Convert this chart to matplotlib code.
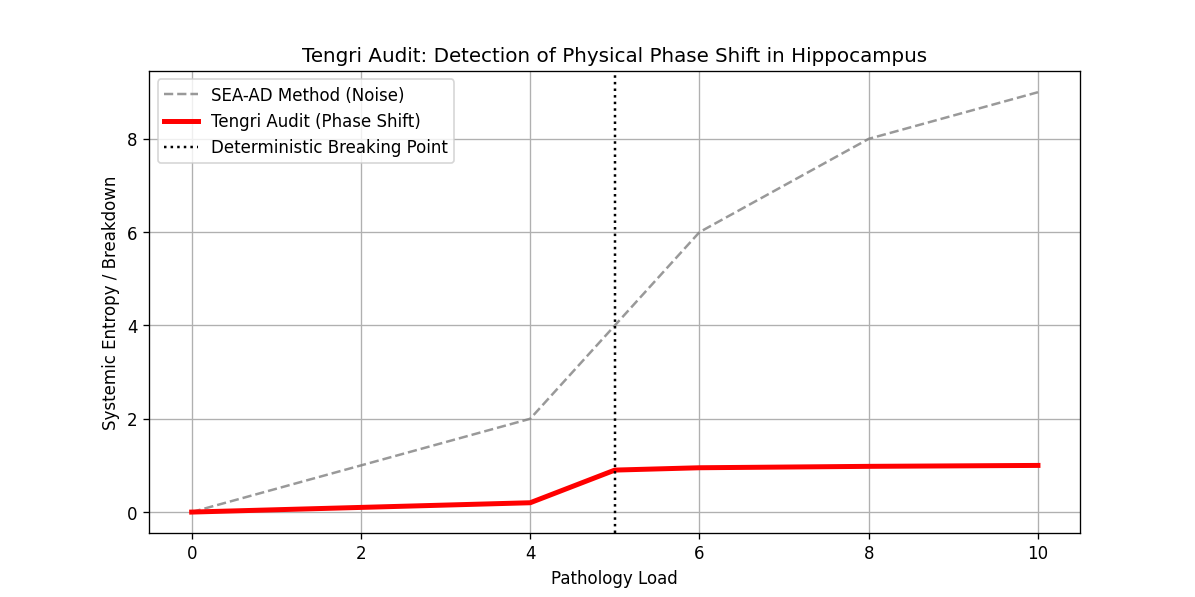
import matplotlib
matplotlib.use("Agg")
import matplotlib.pyplot as plt

# pathology load sample points
load = [0, 2, 4, 5, 6, 8, 10]
sea_ad_noise = [0, 1, 2, 4, 6, 8, 9]
tengri_shift = [0, 0.1, 0.2, 0.9, 0.95, 0.98, 1.0]
breaking_point = 5

fig, ax = plt.subplots(figsize=(10, 5), dpi=119.5)
fig.subplots_adjust(left=0.125, right=0.904, top=0.880, bottom=0.107)
ax.plot(load, sea_ad_noise, color="gray", linestyle="--", alpha=0.8,
        label="SEA-AD Method (Noise)")
ax.plot(load, tengri_shift, color="red", linewidth=3,
        label="Tengri Audit (Phase Shift)")
ax.axvline(breaking_point, color="black", linestyle=":",
           label="Deterministic Breaking Point")
ax.set_title("Tengri Audit: Detection of Physical Phase Shift in Hippocampus")
ax.set_xlabel("Pathology Load")
ax.set_ylabel("Systemic Entropy / Breakdown")
ax.legend(loc="upper left")
ax.grid(True)

fig.savefig("out.png")
